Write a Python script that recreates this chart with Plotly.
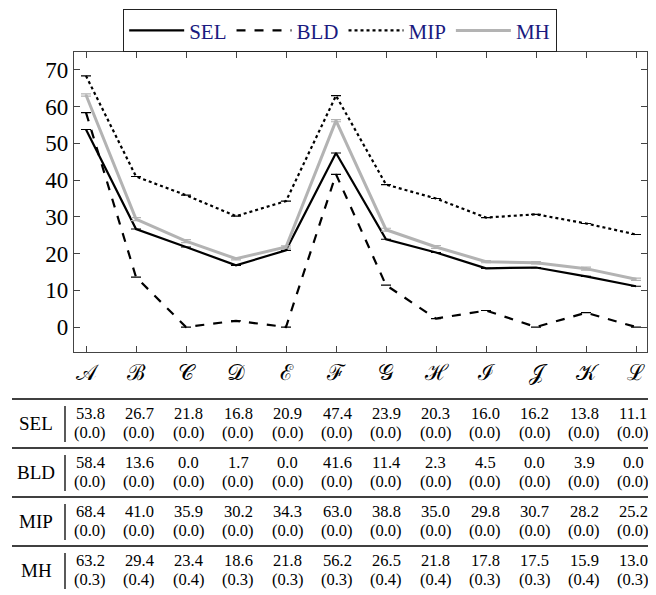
import plotly.graph_objects as go

cats = ["𝒜", "ℬ", "𝒞", "𝒟", "ℰ", "ℱ", "𝒢", "ℋ", "ℐ", "𝒥", "𝒦", "ℒ"]
sel = [53.8, 26.7, 21.8, 16.8, 20.9, 47.4, 23.9, 20.3, 16.0, 16.2, 13.8, 11.1]
sel_sd = [0.0] * 12
bld = [58.4, 13.6, 0.0, 1.7, 0.0, 41.6, 11.4, 2.3, 4.5, 0.0, 3.9, 0.0]
bld_sd = [0.0] * 12
mip = [68.4, 41.0, 35.9, 30.2, 34.3, 63.0, 38.8, 35.0, 29.8, 30.7, 28.2, 25.2]
mip_sd = [0.0] * 12
mh = [63.2, 29.4, 23.4, 18.6, 21.8, 56.2, 26.5, 21.8, 17.8, 17.5, 15.9, 13.0]
mh_sd = [0.3, 0.4, 0.4, 0.3, 0.3, 0.3, 0.4, 0.4, 0.3, 0.3, 0.4, 0.3]

series = [
    ("SEL", sel, sel_sd, "black", "solid", 2.2),
    ("BLD", bld, bld_sd, "black", "dash", 2.2),
    ("MIP", mip, mip_sd, "black", "dot", 2.2),
    ("MH", mh, mh_sd, "#b3b3b3", "solid", 3),
]

FONT = "Liberation Serif"
xs = list(range(len(cats)))
PW, PH = 573, 300  # plot area in px

fig = go.Figure()
for name, vals, sd, color, dash, w in series:
    fig.add_trace(go.Scatter(
        x=xs, y=vals, name=name, mode="lines",
        line=dict(color=color, dash=dash, width=w),
        error_y=dict(type="data", array=sd, color=color, thickness=1.2, width=5),
    ))

# table below the plot (one block of rows per method)
row_top = [-47 / PH, -96 / PH, -145 / PH, -194 / PH]
col_x = [0.08 + i * 0.988 for i in xs]  # table columns drift slightly vs ticks
cell = dict(family=FONT, size=16.5, color="black")
for (name, vals, sd, *_), top in zip(series, row_top):
    fig.add_shape(type="line", xref="paper", yref="paper",
                  x0=-62 / PW, x1=1.02, y0=top, y1=top,
                  line=dict(color="black", width=1.3))
    fig.add_shape(type="line", xref="paper", yref="paper",
                  x0=-9 / PW, x1=-9 / PW, y0=top - 7 / PH, y1=top - 43 / PH,
                  line=dict(color="black", width=1.3))
    fig.add_annotation(text=name, xref="paper", yref="paper",
                       x=-38 / PW, y=top - 24 / PH, showarrow=False,
                       xanchor="center", yanchor="middle",
                       font=dict(family=FONT, size=19, color="black"))
    for cx, v, s in zip(col_x, vals, sd):
        fig.add_annotation(text=f"{v:.1f}", xref="x", yref="paper",
                           x=cx, y=top - 14 / PH, showarrow=False,
                           xanchor="center", yanchor="middle", font=cell)
        fig.add_annotation(text=f"({s:.1f})", xref="x", yref="paper",
                           x=cx, y=top - 33 / PH, showarrow=False,
                           xanchor="center", yanchor="middle", font=cell)

fig.update_layout(
    width=648, height=587,
    margin=dict(l=66, r=9, t=44, b=243, autoexpand=False),
    plot_bgcolor="white", paper_bgcolor="white",
    font=dict(family=FONT, size=20, color="black"),
    showlegend=True,
    legend=dict(
        orientation="h", x=0.464, xanchor="center", y=1 + 43 / PH, yanchor="top",
        bordercolor="#222", borderwidth=1.3,
        font=dict(family=FONT, size=21, color="#1a1a80"),
        itemwidth=55, tracegroupgap=0,
    ),
    xaxis=dict(
        range=[-0.24, 11.22], tickmode="array", tickvals=xs, ticktext=cats,
        ticks="inside", ticklen=6, tickcolor="#444", showline=True,
        linecolor="#444", linewidth=1.3, mirror="ticks", showgrid=False,
        zeroline=False, tickfont=dict(size=22, family="DejaVu Serif"),
    ),
    yaxis=dict(
        range=[-6.8, 74.9], tickvals=[0, 10, 20, 30, 40, 50, 60, 70],
        ticks="inside", ticklen=6, tickcolor="#444", showline=True,
        linecolor="#444", linewidth=1.3, mirror="ticks", showgrid=False,
        zeroline=False, tickfont=dict(size=23),
    ),
)

fig.write_html("out.html")
